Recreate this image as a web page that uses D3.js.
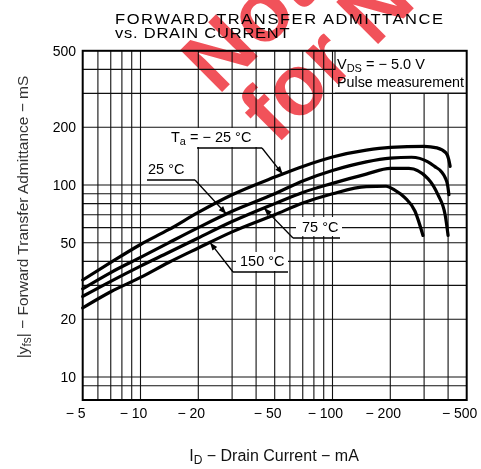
<!DOCTYPE html>
<html><head><meta charset="utf-8">
<script src="https://cdn.jsdelivr.net/npm/d3@7"></script>
<style>
html,body{margin:0;padding:0;background:#fff;}
svg{display:block;font-family:"Liberation Sans",Arial,Helvetica,sans-serif;}
</style></head>
<body><svg id="chart" width="481" height="469"></svg>
<script>
// ---- data (|ID| in mA, |yfs| in mS) ----
const seriesNames = ["-25 °C", "25 °C", "75 °C", "150 °C"];
const tempM25 = [[5,32],[7,39.5],[10,49],[14,58.5],[20,72],[30,89],[50,110],[70,125],[100,140],[150,152],[200,157],[300,159],[350,156],[390,147],[403,136],[410,125]];
const temp25 = [[5,28.8],[7,35],[10,42],[14,50],[20,60],[30,73],[50,90],[70,105],[100,119],[150,132],[200,138],[258,139.5],[314,132],[340,125],[370,117],[385,110],[398,99.5],[404,89]];
const temp75 = [[5,26.3],[7,31.5],[10,37.8],[14,44.5],[20,53],[30,64.5],[50,80],[70,91.5],[100,102],[150,114],[200,122],[250,122],[314,108],[354,89],[386,70],[400,54.6]];
const temp150 = [[5,22.9],[7,27.8],[10,33],[14,39.5],[20,47],[30,57],[50,70],[70,80.5],[100,90],[150,98],[190,98.5],[211,94],[238,86],[269,73],[296,54.6]];
const xTickValues = [5, 10, 20, 50, 100, 200, 500];
const xTickLabels = ["5", "10", "20", "50", "100", "200", "500"];
const yTickValues = [10, 20, 50, 100, 200, 500];
const yTickLabels = ["10", "20", "50", "100", "200", "500"];
const xGridValues = [6,7,8,9,10,20,30,40,50,60,70,80,90,100,200,300,400];
const yGridValues = [9,10,20,30,40,50,60,70,80,90,100,200,300,400];

const svg = d3.select("#chart");
const L = 82.7, R = 466.7, T = 50.8, B = 400;
const x = d3.scaleLog().domain([5, 500]).range([L, R]);
const y = d3.scaleLog().domain([10, 500]).range([377, T]);

svg.append("rect").attr("x", L).attr("y", T).attr("width", R - L).attr("height", B - T).attr("fill", "#fff");

// grid
const grid = svg.append("g").attr("stroke", "#111").attr("stroke-width", 1.1);
grid.selectAll("line.v").data(xGridValues).enter().append("line")
  .attr("x1", d => x(d)).attr("x2", d => x(d)).attr("y1", T).attr("y2", B);
grid.selectAll("line.h").data(yGridValues).enter().append("line")
  .attr("x1", L).attr("x2", R).attr("y1", d => y(d)).attr("y2", d => y(d));

// curves
const line = d3.line().x(d => x(d[0])).y(d => y(d[1])).curve(d3.curveMonotoneX);
const allSeries = [tempM25, temp25, temp75, temp150];
svg.append("g").selectAll("path").data(allSeries).enter().append("path")
  .attr("d", line).attr("fill", "none").attr("stroke", "#000").attr("stroke-width", 3.2)
  .attr("stroke-linecap", "round");

function valAt(s, xv) {
  for (let i = 0; i < s.length - 1; i++) {
    if (xv >= s[i][0] && xv <= s[i + 1][0]) {
      const t = (Math.log(xv) - Math.log(s[i][0])) / (Math.log(s[i + 1][0]) - Math.log(s[i][0]));
      return Math.exp(Math.log(s[i][1]) + t * (Math.log(s[i + 1][1]) - Math.log(s[i][1])));
    }
  }
  return s[s.length - 1][1];
}

// annotations
const ann = svg.append("g");
const labelFont = 14.5;
function label(parts, tx, ty, box, under, from, series, tipX) {
  ann.append("rect").attr("x", box[0]).attr("y", box[1]).attr("width", box[2]).attr("height", box[3]).attr("fill", "#fff");
  const t = ann.append("text").attr("x", tx).attr("y", ty).attr("font-size", labelFont).attr("fill", "#000");
  parts.forEach(p => {
    const ts = t.append("tspan").text(p[0]);
    if (p[1] === "sub") ts.attr("font-size", labelFont * 0.75).attr("dy", 3);
    if (p[1] === "up") ts.attr("dy", -3);
  });
  ann.append("line").attr("x1", under[0]).attr("x2", under[1]).attr("y1", under[2]).attr("y2", under[2])
    .attr("stroke", "#000").attr("stroke-width", 1.3);
  const tx2 = x(tipX), ty2 = y(valAt(series, tipX));
  ann.append("line").attr("x1", from[0]).attr("y1", from[1]).attr("x2", tx2).attr("y2", ty2)
    .attr("stroke", "#000").attr("stroke-width", 1.3);
  const ang = Math.atan2(ty2 - from[1], tx2 - from[0]);
  const len = 8, wd = 3;
  const bx = tx2 - len * Math.cos(ang), by = ty2 - len * Math.sin(ang);
  ann.append("path").attr("d", `M${tx2},${ty2}L${bx - wd * Math.sin(ang)},${by + wd * Math.cos(ang)}L${bx + wd * Math.sin(ang)},${by - wd * Math.cos(ang)}Z`)
    .attr("fill", "#000");
}
label([["T"], ["a", "sub"], [" = − 25 °C", "up"]], 171, 142, [168, 128, 92, 19], [197, 262, 148], [262, 148], tempM25, 55);
label([["25 °C"]], 148, 174, [145, 160, 42, 19], [147, 195, 180], [195, 180], temp25, 28);
label([["75 °C"]], 302, 232, [296, 217, 46, 19], [293, 340, 238], [293, 238], temp75, 44);
label([["150 °C"]], 240, 266, [236, 252, 52, 19], [233, 288, 272], [233, 272], temp150, 23);

// conditions box
svg.append("rect").attr("x", 335).attr("y", T).attr("width", R - 335).attr("height", 93 - T).attr("fill", "#fff");
svg.append("line").attr("x1", 335).attr("x2", R).attr("y1", 93).attr("y2", 93).attr("stroke", "#111").attr("stroke-width", 1.1);
svg.append("line").attr("x1", 335).attr("x2", 335).attr("y1", T).attr("y2", 70).attr("stroke", "#111").attr("stroke-width", 1.1);
const vds = svg.append("text").attr("x", 337).attr("y", 69).attr("font-size", 14.5);
vds.append("tspan").text("V");
vds.append("tspan").text("DS").attr("font-size", 11).attr("dy", 3);
vds.append("tspan").text(" = − 5.0 V").attr("dy", -3);
svg.append("text").attr("x", 337).attr("y", 87).attr("font-size", 14.5).attr("textLength", 127)
  .attr("lengthAdjust", "spacingAndGlyphs").text("Pulse measurement");

// frame
svg.append("rect").attr("x", L).attr("y", T).attr("width", R - L).attr("height", B - T)
  .attr("fill", "none").attr("stroke", "#000").attr("stroke-width", 2);

// watermark (multiplied over the drawing)
const wm = svg.append("g").style("mix-blend-mode", "multiply")
  .attr("fill", "#ee2630").attr("opacity", 0.8)
  .attr("font-family", "'Liberation Sans',Arial,sans-serif").attr("font-weight", "bold").attr("font-size", 86);
wm.append("text").attr("transform", "translate(218,96) rotate(-45)").text("Not");
wm.append("text").attr("transform", "translate(276,146) rotate(-45)").text("for New");

// tick labels
const tickFont = 14;
const meas = svg.append("text").attr("font-size", tickFont).attr("visibility", "hidden");
const xt = svg.append("g").attr("font-size", tickFont).attr("fill", "#000");
xTickValues.forEach((v, i) => {
  meas.text(xTickLabels[i]);
  const w = meas.node().getComputedTextLength();
  xt.append("text").attr("x", x(v) + w / 2 - 1).attr("y", 418).attr("text-anchor", "end")
    .text("− " + xTickLabels[i]);
});
meas.remove();
const yt = svg.append("g").attr("font-size", tickFont).attr("fill", "#000");
yTickValues.forEach((v, i) => {
  yt.append("text").attr("x", 76).attr("y", y(v)).attr("dy", "0.35em").attr("text-anchor", "end").text(yTickLabels[i]);
});

// titles (wide lettering)
svg.append("text").attr("transform", "translate(115,24) scale(1.18,1)").attr("font-size", 14)
  .attr("textLength", 278).attr("lengthAdjust", "spacing").text("FORWARD TRANSFER ADMITTANCE");
svg.append("text").attr("transform", "translate(115,37.5) scale(1.18,1)").attr("font-size", 14)
  .attr("textLength", 148).attr("lengthAdjust", "spacing").text("vs. DRAIN CURRENT");

// axis titles
const xl = svg.append("text").attr("x", 274).attr("y", 461).attr("text-anchor", "middle").attr("font-size", 16).attr("fill", "#111");
xl.append("tspan").text("I");
xl.append("tspan").text("D").attr("font-size", 12).attr("dy", 3);
xl.append("tspan").text(" − Drain Current − mA").attr("dy", -3);
const yl = svg.append("text").attr("transform", "translate(28,217) rotate(-90)").attr("text-anchor", "middle")
  .attr("font-size", 15.5).attr("fill", "#333");
yl.append("tspan").text("|y");
yl.append("tspan").text("fs").attr("font-size", 12).attr("dy", 3);
yl.append("tspan").text("| − Forward Transfer Admittance − mS").attr("dy", -3);
</script></body></html>
